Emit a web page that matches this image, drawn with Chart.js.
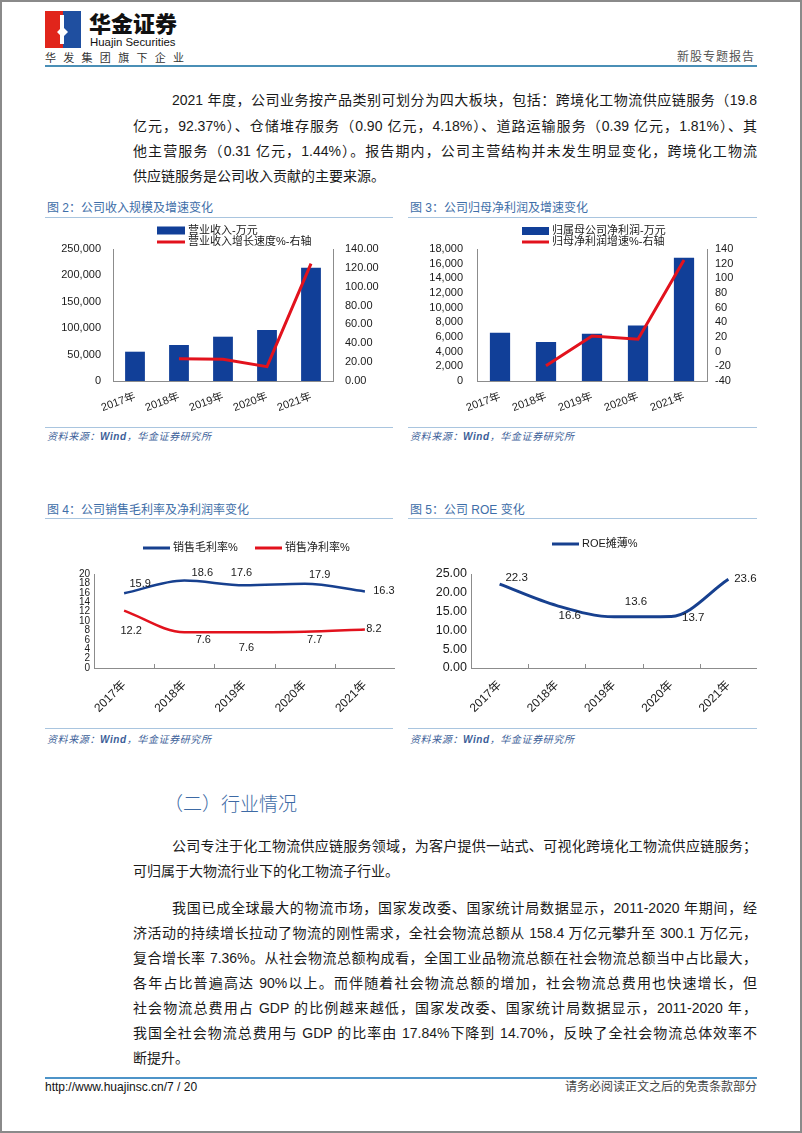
<!DOCTYPE html>
<html><head><meta charset="utf-8">
<script src="https://cdn.jsdelivr.net/npm/chart.js@4.4.0/dist/chart.umd.min.js"></script>
<style>
html,body{margin:0;padding:0;background:#fff;}
body{width:802px;height:1133px;position:relative;overflow:hidden;font-family:"Liberation Sans","Noto Sans CJK SC",sans-serif;color:#1a1a1a;}
.frame{position:absolute;left:0;top:0;width:802px;height:1133px;box-sizing:border-box;border:2px solid #8a8a8a;pointer-events:none;}
.abs{position:absolute;}
.ln{position:absolute;left:133px;width:624px;height:25px;line-height:25px;font-size:14px;white-space:nowrap;text-align:justify;text-align-last:justify;color:#1a1a1a;}
.ln.ind{left:172px;width:585px;}
.ln.last{text-align-last:left;}
.ftitle{position:absolute;font-size:12px;line-height:14px;color:#3e6ea8;white-space:nowrap;}
.rule{position:absolute;height:0;border-top:1.5px solid #a9c5df;}
.src{position:absolute;font-size:10px;line-height:12px;color:#3d5f99;font-style:italic;white-space:nowrap;letter-spacing:0.6px;}
.src b{font-weight:bold;}
canvas{position:absolute;}
</style></head>
<body>
<!-- header -->
<svg class="abs" style="left:45px;top:11px" width="36" height="37" viewBox="0 0 36 37">
  <rect x="0" y="0" width="18" height="37" fill="#e1251b"/>
  <rect x="18" y="0" width="18" height="37" fill="#1f4fa0"/>
  <polygon points="15,4 19,4 19,17 23,21 19,25 19,33 15,33 15,24 12,21 15,18" fill="#fff"/>
</svg>
<div class="abs" style="left:89px;top:11px;font-size:22px;line-height:23px;font-weight:900;letter-spacing:0px;font-family:'Noto Sans CJK SC',sans-serif;color:#111;">华金证券</div>
<div class="abs" style="left:90px;top:35px;font-size:11.4px;line-height:14px;color:#111;">Huajin Securities</div>
<div class="abs" style="left:45px;top:51px;width:139px;display:flex;justify-content:space-between;font-size:11px;line-height:14px;color:#333;"><span>华</span><span>发</span><span>集</span><span>团</span><span>旗</span><span>下</span><span>企</span><span>业</span></div>
<div class="abs" style="right:47px;top:50px;font-size:12px;line-height:14px;color:#555;letter-spacing:1px;">新股专题报告</div>
<div class="abs" style="left:45px;top:65px;width:712px;height:2px;background:#4a8fb6;"></div>

<!-- paragraph 1 -->
<div class="ln ind" style="top:87.5px">2021 年度，公司业务按产品类别可划分为四大板块，包括：跨境化工物流供应链服务（19.8</div>
<div class="ln" style="top:113.5px">亿元，92.37%）、仓储堆存服务（0.90 亿元，4.18%）、道路运输服务（0.39 亿元，1.81%）、其</div>
<div class="ln" style="top:138.5px">他主营服务（0.31 亿元，1.44%）。报告期内，公司主营结构并未发生明显变化，跨境化工物流</div>
<div class="ln last" style="top:163.5px">供应链服务是公司收入贡献的主要来源。</div>

<!-- figure titles row 1 -->
<div class="ftitle" style="left:47px;top:201px">图 2：公司收入规模及增速变化</div>
<div class="rule" style="left:45px;top:217px;width:348px"></div>
<div class="ftitle" style="left:410px;top:201px">图 3：公司归母净利润及增速变化</div>
<div class="rule" style="left:408px;top:217px;width:349px"></div>
<canvas id="c2" width="350" height="200" style="left:45px;top:222px"></canvas>
<canvas id="c3" width="352" height="200" style="left:405px;top:222px"></canvas>
<div class="rule" style="left:45px;top:427px;width:348px"></div>
<div class="src" style="left:47px;top:431px">资料来源：<b>Wind</b>，华金证券研究所</div>
<div class="rule" style="left:408px;top:427px;width:349px"></div>
<div class="src" style="left:410px;top:431px">资料来源：<b>Wind</b>，华金证券研究所</div>

<!-- figure titles row 2 -->
<div class="ftitle" style="left:47px;top:503px">图 4：公司销售毛利率及净利润率变化</div>
<div class="rule" style="left:45px;top:518px;width:348px"></div>
<div class="ftitle" style="left:410px;top:503px">图 5：公司 ROE 变化</div>
<div class="rule" style="left:408px;top:518px;width:349px"></div>
<canvas id="c4" width="350" height="195" style="left:45px;top:530px"></canvas>
<canvas id="c5" width="352" height="195" style="left:405px;top:530px"></canvas>
<div class="rule" style="left:45px;top:728px;width:348px"></div>
<div class="src" style="left:47px;top:734px">资料来源：<b>Wind</b>，华金证券研究所</div>
<div class="rule" style="left:408px;top:728px;width:349px"></div>
<div class="src" style="left:410px;top:734px">资料来源：<b>Wind</b>，华金证券研究所</div>

<!-- section -->
<div class="abs" style="left:164px;top:790px;font-size:19px;line-height:25px;color:#3d6aa5;font-family:'Noto Sans CJK SC',sans-serif;font-weight:300;">（二）行业情况</div>

<div class="ln ind" style="top:833.5px">公司专注于化工物流供应链服务领域，为客户提供一站式、可视化跨境化工物流供应链服务；</div>
<div class="ln last" style="top:858.5px">可归属于大物流行业下的化工物流子行业。</div>

<div class="ln ind" style="top:895.5px">我国已成全球最大的物流市场，国家发改委、国家统计局数据显示，2011-2020 年期间，经</div>
<div class="ln" style="top:920.5px">济活动的持续增长拉动了物流的刚性需求，全社会物流总额从 158.4 万亿元攀升至 300.1 万亿元，</div>
<div class="ln" style="top:945.5px">复合增长率 7.36%。从社会物流总额构成看，全国工业品物流总额在社会物流总额当中占比最大，</div>
<div class="ln" style="top:970.5px">各年占比普遍高达 90%以上。而伴随着社会物流总额的增加，社会物流总费用也快速增长，但</div>
<div class="ln" style="top:995.5px">社会物流总费用占 GDP 的比例越来越低，国家发改委、国家统计局数据显示，2011-2020 年，</div>
<div class="ln" style="top:1020.5px">我国全社会物流总费用与 GDP 的比率由 17.84%下降到 14.70%，反映了全社会物流总体效率不</div>
<div class="ln last" style="top:1045.5px">断提升。</div>

<!-- footer -->
<div class="abs" style="left:45px;top:1077px;width:712px;height:2px;background:#4d94c8;"></div>
<div class="abs" style="left:45px;top:1080px;font-size:12px;line-height:14px;color:#111;">http://www.huajinsc.cn/7 / 20</div>
<div class="abs" style="right:45px;top:1080px;font-size:12px;line-height:14px;color:#444;">请务必阅读正文之后的免责条款部分</div>
<div class="frame"></div>

<script>
// ---------------- data ----------------
const years = ['2017年', '2018年', '2019年', '2020年', '2021年'];

const fig2Series = ['营业收入-万元', '营业收入增长速度%-右轴'];
const revenue = [55500, 68200, 83900, 96600, 214400];
const revenueGrowth = [null, 23.5, 23.0, 15.2, 124.5];
const revenueAxis = [0, 250000, 50000];
const revenueGrowthAxis = [0, 140, 20];

const fig3Series = ['归属母公司净利润-万元', '归母净利润增速%-右轴'];
const netProfit = [6590, 5320, 6450, 7580, 16820];
const profitGrowth = [null, -19.3, 21.3, 17.0, 125.0];
const profitAxis = [0, 18000, 2000];
const profitGrowthAxis = [-40, 140, 20];

const fig4Series = ['销售毛利率%', '销售净利率%'];
const grossMargin = [15.9, 18.6, 17.6, 17.9, 16.3];
const netMargin = [12.2, 7.6, 7.6, 7.7, 8.2];
const marginAxis = [0, 20, 2];

const fig5Series = ['ROE摊薄%'];
const roe = [22.3, 16.6, 13.6, 13.7, 23.6];
const roeAxis = [0, 25, 5];

// ---------------- styles ----------------
const FONT = '"Liberation Sans","Noto Sans CJK SC",sans-serif';
const BAR = '#113f98';
const RED = '#e2121d';
const BLUE = '#17408f';
const AXIS = '#8c8c8c';
const TXT = '#1a1a1a';
Chart.defaults.font.family = FONT;
Chart.defaults.color = TXT;
Chart.defaults.animation = false;

// fixed-position legend drawn from dataset labels/colors
const fixedLegend = {
  id: 'fixedLegend',
  afterDraw(chart, args, opts) {
    if (!opts.items) return;
    const ctx = chart.ctx;
    ctx.save();
    ctx.textBaseline = 'middle';
    ctx.textAlign = 'left';
    opts.items.forEach((it, i) => {
      const ds = chart.data.datasets[i];
      if (it.kind === 'box') {
        ctx.fillStyle = ds.backgroundColor;
        ctx.fillRect(it.x, it.y - it.h / 2, it.w, it.h);
      } else {
        ctx.strokeStyle = ds.borderColor;
        ctx.lineWidth = it.h;
        ctx.beginPath();
        ctx.moveTo(it.x, it.y);
        ctx.lineTo(it.x + it.w, it.y);
        ctx.stroke();
      }
      ctx.font = opts.size + 'px ' + FONT;
      ctx.fillStyle = TXT;
      ctx.fillText(ds.label, it.x + it.w + it.gap, it.y);
    });
    ctx.restore();
  }
};

// value labels near points
const valueLabels = {
  id: 'valueLabels',
  afterDatasetsDraw(chart, args, opts) {
    if (!opts.offsets) return;
    const ctx = chart.ctx;
    ctx.save();
    ctx.font = opts.size + 'px ' + FONT;
    ctx.fillStyle = TXT;
    ctx.textAlign = 'center';
    ctx.textBaseline = 'middle';
    chart.data.datasets.forEach((ds, di) => {
      const off = opts.offsets[di];
      if (!off) return;
      chart.getDatasetMeta(di).data.forEach((pt, i) => {
        const v = ds.data[i];
        if (v == null) return;
        ctx.fillText(v.toFixed(opts.decimals), pt.x + off[i][0], pt.y + off[i][1]);
      });
    });
    ctx.restore();
  }
};

// small inward tick marks at category boundaries
const innerTicks = {
  id: 'innerTicks',
  afterDraw(chart, args, opts) {
    if (!opts.length) return;
    const sx = chart.scales.x;
    const ctx = chart.ctx;
    ctx.save();
    ctx.strokeStyle = opts.color;
    ctx.lineWidth = 1;
    for (let i = 0; i <= chart.data.labels.length; i++) {
      const px = Math.round(sx.getPixelForValue(i - 0.5)) + 0.5;
      ctx.beginPath();
      ctx.moveTo(px, sx.top);
      ctx.lineTo(px, sx.top - opts.length);
      ctx.stroke();
    }
    ctx.restore();
  }
};

const plugins = [fixedLegend, valueLabels, innerTicks];
const fmtThousands = v => Number(v).toLocaleString('en-US');

function xAxis(size, rot, pad, height) {
  return {
    offset: true,
    grid: { display: false, drawTicks: false },
    border: { display: true, color: AXIS, width: 1 },
    ticks: { font: { size: size }, color: TXT, minRotation: rot, maxRotation: rot, padding: pad, autoSkip: false },
    afterFit(s) { s.height = height; }
  };
}
function yAxis(pos, rng, size, pad, width, cb) {
  return {
    position: pos, min: rng[0], max: rng[1],
    grid: { display: false, drawTicks: false },
    border: { display: true, color: AXIS, width: 1 },
    ticks: { stepSize: rng[2], font: { size: size }, color: TXT, padding: pad, autoSkip: false, callback: cb },
    afterFit(s) { s.width = width; }
  };
}

// ---------- Figure 2 ----------
new Chart(document.getElementById('c2'), {
  type: 'bar',
  data: {
    labels: years,
    datasets: [
      { type: 'bar', label: fig2Series[0], data: revenue, backgroundColor: BAR, yAxisID: 'y', barPercentage: 0.45, categoryPercentage: 1, order: 2 },
      { type: 'line', label: fig2Series[1], data: revenueGrowth, borderColor: RED, backgroundColor: RED, borderWidth: 3, pointRadius: 0, yAxisID: 'y1', tension: 0, order: 1 }
    ]
  },
  options: {
    responsive: false,
    layout: { padding: { top: 27, left: 0, right: 0, bottom: 0 } },
    plugins: {
      legend: { display: false }, tooltip: { enabled: false },
      fixedLegend: { size: 11, items: [
        { kind: 'box', x: 112, y: 8.5, w: 28, h: 8, gap: 3 },
        { kind: 'line', x: 112, y: 20, w: 28, h: 3, gap: 3 }
      ] }
    },
    scales: {
      x: xAxis(11, 20, 9, 41),
      y: yAxis('left', revenueAxis, 11, 12, 68, fmtThousands),
      y1: yAxis('right', revenueGrowthAxis, 11, 12, 62, v => Number(v).toFixed(2))
    }
  },
  plugins: plugins
});

// ---------- Figure 3 ----------
new Chart(document.getElementById('c3'), {
  type: 'bar',
  data: {
    labels: years,
    datasets: [
      { type: 'bar', label: fig3Series[0], data: netProfit, backgroundColor: BAR, yAxisID: 'y', barPercentage: 0.44, categoryPercentage: 1, order: 2 },
      { type: 'line', label: fig3Series[1], data: profitGrowth, borderColor: RED, backgroundColor: RED, borderWidth: 3, pointRadius: 0, yAxisID: 'y1', tension: 0, order: 1 }
    ]
  },
  options: {
    responsive: false,
    layout: { padding: { top: 27, left: 0, right: 0, bottom: 0 } },
    plugins: {
      legend: { display: false }, tooltip: { enabled: false },
      fixedLegend: { size: 11, items: [
        { kind: 'box', x: 117, y: 9, w: 27, h: 8, gap: 3 },
        { kind: 'line', x: 117, y: 20, w: 27, h: 3, gap: 3 }
      ] }
    },
    scales: {
      x: xAxis(11, 20, 9, 41),
      y: yAxis('left', profitAxis, 11, 14, 72, fmtThousands),
      y1: yAxis('right', profitGrowthAxis, 11, 8, 50, v => String(v))
    }
  },
  plugins: plugins
});

// ---------- Figure 4 ----------
new Chart(document.getElementById('c4'), {
  type: 'line',
  data: {
    labels: years,
    datasets: [
      { label: fig4Series[0], data: grossMargin, borderColor: BLUE, backgroundColor: BLUE, borderWidth: 2.5, pointRadius: 0, cubicInterpolationMode: 'monotone' },
      { label: fig4Series[1], data: netMargin, borderColor: RED, backgroundColor: RED, borderWidth: 2.5, pointRadius: 0, cubicInterpolationMode: 'monotone' }
    ]
  },
  options: {
    responsive: false,
    layout: { padding: { top: 44, left: 0, right: 0, bottom: 0 } },
    plugins: {
      legend: { display: false }, tooltip: { enabled: false },
      fixedLegend: { size: 11, items: [
        { kind: 'line', x: 98, y: 18, w: 27, h: 3, gap: 3 },
        { kind: 'line', x: 210, y: 18, w: 27, h: 3, gap: 3 }
      ] },
      valueLabels: { size: 11, decimals: 1, offsets: [
        [[16, -9], [18, -8], [-3, -12], [15, -9], [19, 0]],
        [[7, 20], [19, 8], [2, 16], [10, 8], [9, 0]]
      ] },
      innerTicks: { length: 4, color: AXIS }
    },
    scales: {
      x: xAxis(12, 45, 10, 57),
      y: yAxis('left', marginAxis, 10, 4, 49, v => String(v))
    }
  },
  plugins: plugins
});

// ---------- Figure 5 ----------
new Chart(document.getElementById('c5'), {
  type: 'line',
  data: {
    labels: years,
    datasets: [
      { label: fig5Series[0], data: roe, borderColor: BLUE, backgroundColor: BLUE, borderWidth: 3, pointRadius: 0, cubicInterpolationMode: 'monotone' }
    ]
  },
  options: {
    responsive: false,
    layout: { padding: { top: 44, left: 0, right: 0, bottom: 0 } },
    plugins: {
      legend: { display: false }, tooltip: { enabled: false },
      fixedLegend: { size: 11, items: [
        { kind: 'line', x: 147, y: 14, w: 27, h: 3, gap: 3 }
      ] },
      valueLabels: { size: 11.5, decimals: 1, offsets: [
        [[17, -6], [13, 10], [22, -15], [22, 1], [17, 0]]
      ] },
      innerTicks: { length: 4, color: AXIS }
    },
    scales: {
      x: xAxis(12, 45, 10, 57),
      y: yAxis('left', roeAxis, 12.5, 4, 66, v => Number(v).toFixed(2))
    }
  },
  plugins: plugins
});

// keep each text line on one row
function fitLines() {
  document.querySelectorAll('.ln').forEach(el => {
    el.style.letterSpacing = '0px';
    const over = el.scrollWidth - el.clientWidth;
    if (over > 0) {
      const n = el.textContent.length;
      el.style.letterSpacing = (-(over + 1) / n).toFixed(3) + 'px';
    }
  });
}
fitLines();
if (document.fonts && document.fonts.ready) document.fonts.ready.then(fitLines);
</script>
</body></html>
